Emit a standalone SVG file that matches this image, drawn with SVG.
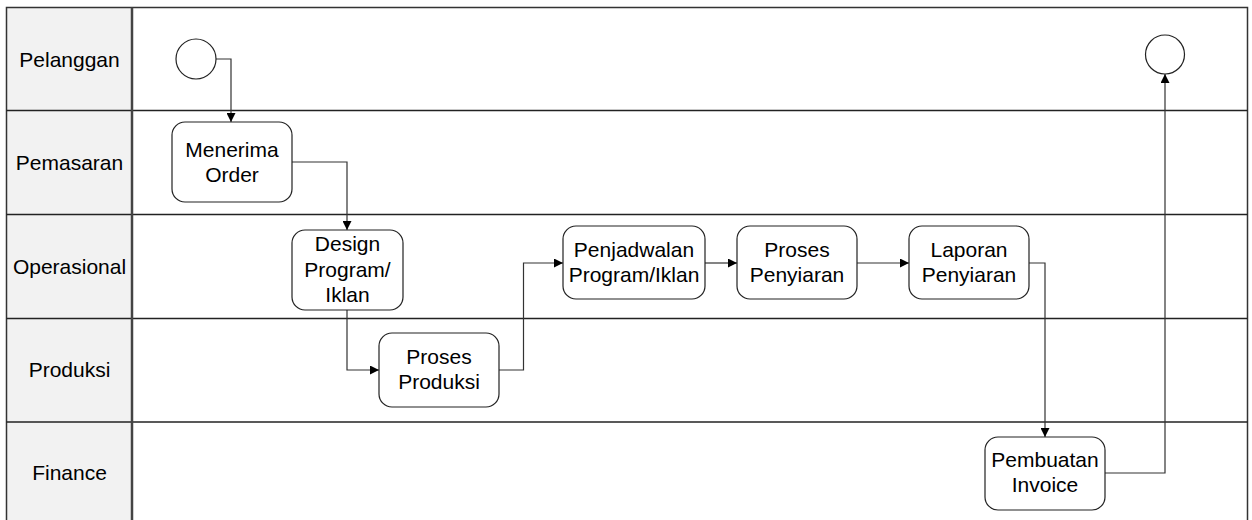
<svg xmlns="http://www.w3.org/2000/svg" width="1252" height="520" viewBox="0 0 1252 520">
<defs>
<marker id="arr" viewBox="0 0 10 10" refX="10" refY="5" markerWidth="9" markerHeight="9" markerUnits="userSpaceOnUse" orient="auto">
<path d="M0,0 L10,5 L0,10 z" fill="#000"/>
</marker>
</defs>
<style>
text{font-family:"Liberation Sans",Arial,sans-serif;font-size:21px;fill:#000;text-anchor:middle}
.lbl{fill:#f2f2f2;stroke:none}
.frame{fill:none;stroke:#333;stroke-width:1.5}
.div{stroke:#222;stroke-width:1.5}
.sep{stroke:#444;stroke-width:2.5}
.box{fill:#fff;stroke:#222;stroke-width:1.2}
.ev{fill:#fff;stroke:#222;stroke-width:1.2}
.con{fill:none;stroke:#333;stroke-width:1.2;marker-end:url(#arr)}
</style>
<rect width="1252" height="520" fill="#fff"/>
<g id="lanes">
<rect class="lbl" x="6.5" y="7.5" width="125.5" height="530"/>
<rect class="frame" x="6.5" y="7.5" width="1241" height="530"/>
<line class="div" x1="6.5" y1="110.5" x2="1247.5" y2="110.5"/>
<line class="div" x1="6.5" y1="214.5" x2="1247.5" y2="214.5"/>
<line class="div" x1="6.5" y1="318.5" x2="1247.5" y2="318.5"/>
<line class="div" x1="6.5" y1="422" x2="1247.5" y2="422"/>
<line class="sep" x1="132" y1="7.5" x2="132" y2="530"/>
<text x="69.5" y="66.5">Pelanggan</text>
<text x="69.5" y="170">Pemasaran</text>
<text x="69.5" y="274">Operasional</text>
<text x="69.5" y="377">Produksi</text>
<text x="69.5" y="480">Finance</text>
</g>
<g id="connectors">
<path class="con" d="M216,59 H231 V122"/>
<path class="con" d="M292,162 H347 V230"/>
<path class="con" d="M347,310 V370 H379"/>
<path class="con" d="M499,370 H523.5 V263 H563"/>
<path class="con" d="M705,263 H737"/>
<path class="con" d="M857,263 H909"/>
<path class="con" d="M1029,263 H1045 V437"/>
<path class="con" d="M1105,473 H1165 V74"/>
</g>
<g id="start"><circle class="ev" cx="196" cy="59" r="20"/></g>
<g id="end"><circle class="ev" cx="1165" cy="54.5" r="19.5"/></g>
<g id="menerima-order">
<rect class="box" x="172" y="122" width="120" height="80" rx="13"/>
<text x="232" y="157">Menerima</text>
<text x="232" y="182">Order</text>
</g>
<g id="design-program">
<rect class="box" x="292" y="230" width="111" height="80" rx="13"/>
<text x="347.5" y="251">Design</text>
<text x="347.5" y="276.5">Program/</text>
<text x="347.5" y="302">Iklan</text>
</g>
<g id="proses-produksi">
<rect class="box" x="379" y="333" width="120" height="74" rx="13"/>
<text x="439" y="363.5">Proses</text>
<text x="439" y="388.5">Produksi</text>
</g>
<g id="penjadwalan">
<rect class="box" x="563" y="226" width="142" height="73" rx="13"/>
<text x="634" y="257">Penjadwalan</text>
<text x="634" y="282">Program/Iklan</text>
</g>
<g id="proses-penyiaran">
<rect class="box" x="737" y="226" width="120" height="73" rx="13"/>
<text x="797" y="257">Proses</text>
<text x="797" y="282">Penyiaran</text>
</g>
<g id="laporan-penyiaran">
<rect class="box" x="909" y="226" width="120" height="73" rx="13"/>
<text x="969" y="257">Laporan</text>
<text x="969" y="282">Penyiaran</text>
</g>
<g id="pembuatan-invoice">
<rect class="box" x="985" y="437" width="120" height="73" rx="13"/>
<text x="1045" y="467">Pembuatan</text>
<text x="1045" y="492">Invoice</text>
</g>
</svg>
